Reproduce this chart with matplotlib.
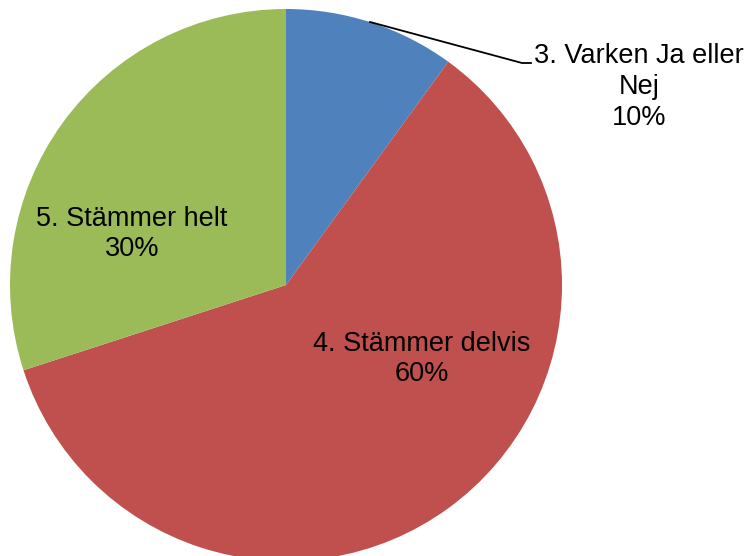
import matplotlib.pyplot as plt

# data
categories = ["3. Varken Ja eller\nNej", "4. Stämmer delvis", "5. Stämmer helt"]
values = [10, 60, 30]
colors = ["#4F81BD", "#C0504D", "#9BBB59"]

plt.rcParams['font.family'] = ['Liberation Sans', 'DejaVu Sans']

fig = plt.figure(figsize=(7.47, 5.56), dpi=100)
ax = fig.add_axes([0, 0, 1, 1])

# pixel-based layout: centre (286, 285 from top), radius 276
cx, cy, r = 286, 556 - 285, 276
wedges, _ = ax.pie(values, colors=colors, startangle=90, counterclock=False,
                   center=(cx, cy), radius=r, frame=True,
                   wedgeprops=dict(linewidth=0))
ax.set_xlim(0, 747)
ax.set_ylim(0, 556)
ax.set_aspect('auto')
ax.axis('off')

fs = 19.5
pct = [f"{v}%" for v in values]

# outside label with leader line for the small slice
ax.plot([370, 522, 531], [556 - 22, 556 - 63, 556 - 63], color='black', lw=1.3)
ax.text(639, 556 - 87, categories[0] + "\n" + pct[0], ha='center', va='center',
        fontsize=fs, linespacing=1.24)

ax.text(422, 556 - 359, categories[1] + "\n" + pct[1], ha='center', va='center',
        fontsize=fs, linespacing=1.24)
ax.text(132, 556 - 234, categories[2] + "\n" + pct[2], ha='center', va='center',
        fontsize=fs, linespacing=1.24)

fig.savefig("out.png", dpi=100)
